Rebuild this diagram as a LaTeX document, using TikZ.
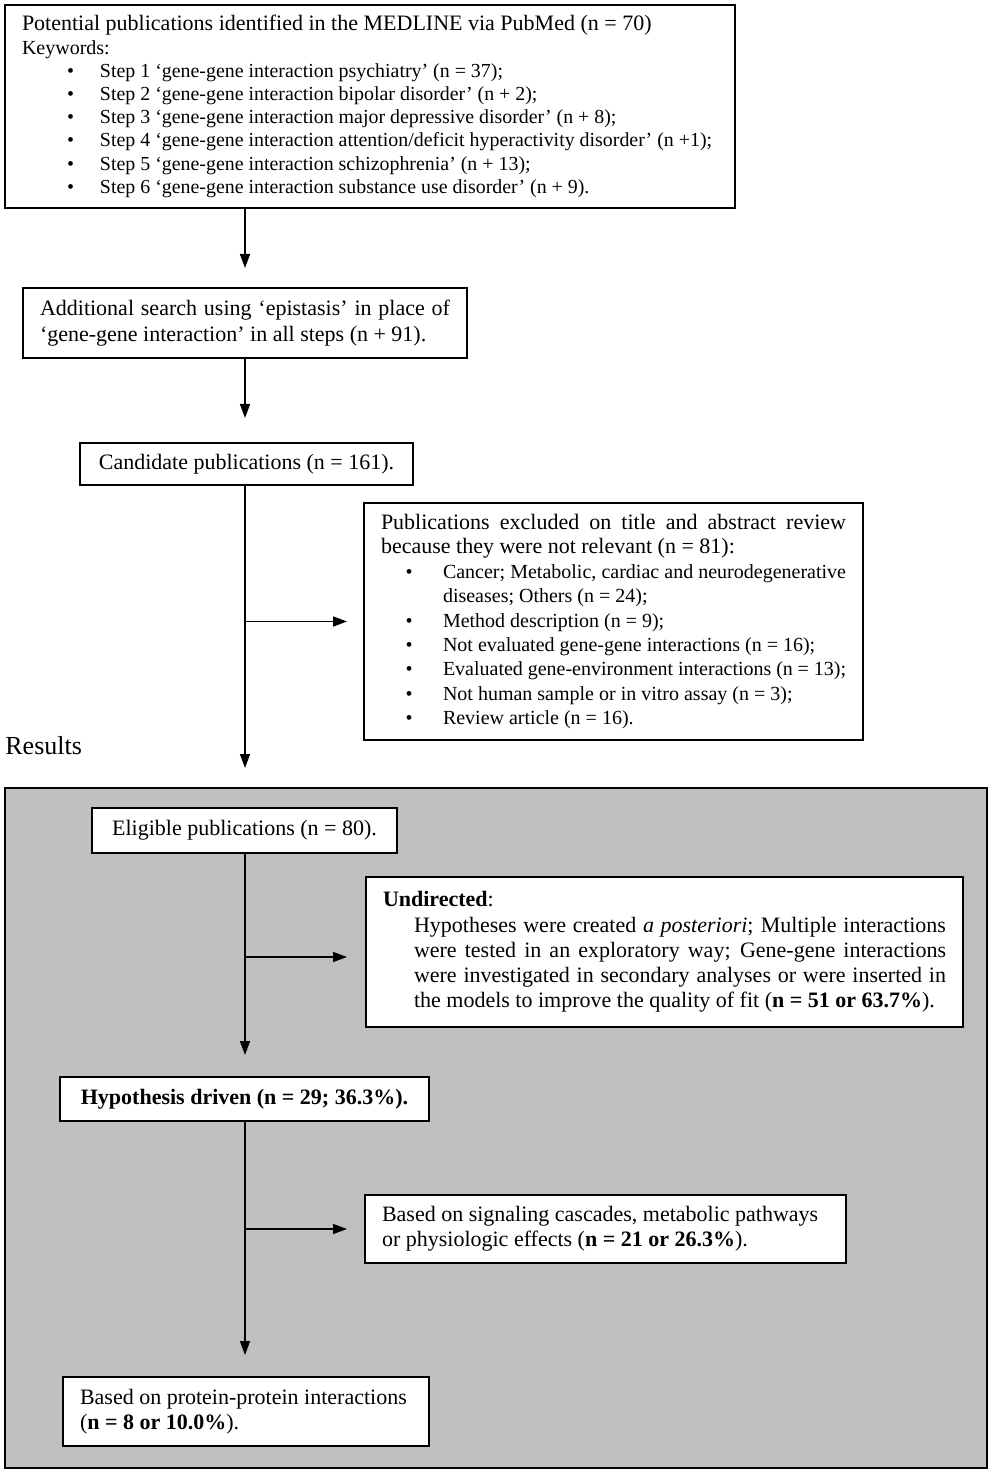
\documentclass[tikz,border=0pt]{standalone}
\usepackage{fontspec}
\setmainfont{Liberation Serif}
\usetikzlibrary{arrows.meta}
\definecolor{panelgray}{RGB}{192,192,192}
\newcommand{\kwbul}{\makebox[39pt][l]{\hspace*{22.5pt}\textbullet}}
\newcommand{\exbul}{\leavevmode\llap{\textbullet\hspace*{15.2pt}}}
\tikzset{
  box/.style={draw=black, line width=1pt, fill=white, anchor=north west, outer sep=0pt, inner xsep=8.5pt, inner ysep=0pt, font=\fontsize{11}{12.2}\selectfont},
  arr/.style={-{Triangle[length=7pt,width=5pt]}, line width=0.8pt}
}
\begin{document}
\begin{tikzpicture}[x=0.5pt,y=-0.5pt]
\useasboundingbox (0,0) rectangle (992,1475);
\filldraw[draw=black, fill=panelgray, line width=1pt] (5,788) rectangle (987,1468);
\coordinate (trunk) at (245,0);

\node[box, text width=348pt, minimum height=101.5pt, align=flush left, font=\fontsize{9.95}{11.6}\selectfont] (medline) at (5,5)
 {{\fontsize{11}{11.6}\selectfont Potential publications identified in the MEDLINE via PubMed (n = 70)}\\
  {\fontsize{10}{11.6}\selectfont Keywords:}\\
  \kwbul Step 1 ‘gene-gene interaction psychiatry’ (n = 37);\\
  \kwbul Step 2 ‘gene-gene interaction bipolar disorder’ (n + 2);\\
  \kwbul Step 3 ‘gene-gene interaction major depressive disorder’ (n + 8);\\
  \mbox{\kwbul Step 4 ‘gene-gene interaction attention/deficit hyperactivity disorder’ (n +1);}\\
  \kwbul Step 5 ‘gene-gene interaction schizophrenia’ (n + 13);\\
  \kwbul Step 6 ‘gene-gene interaction substance use disorder’ (n + 9).};
\node[box, text width=205pt, minimum height=35pt, align=justify, font=\fontsize{11}{13}\selectfont] (epist) at (23,288)
 {Additional search using ‘epistasis’ in place of\linebreak ‘gene-gene interaction’ in all steps (n + 91).};
\node[box, minimum width=166.5pt, minimum height=21pt, inner xsep=0pt] (cand) at (80,443)
 {Candidate publications (n = 161).};
\node[box, text width=232.5pt, minimum height=118.5pt, align=justify] (excl) at (364,503)
 {Publications excluded on title and abstract review\linebreak because they were not relevant (n = 81):\par
  \fontsize{10}{12.2}\selectfont\leftskip=31pt
  \exbul Cancer; Metabolic, cardiac and neurodegenerative\linebreak diseases; Others (n = 24);\par
  \exbul Method description (n = 9);\par
  \exbul Not evaluated gene-gene interactions (n = 16);\par
  \exbul Evaluated gene-environment interactions (n = 13);\par
  \exbul Not human sample or in vitro assay (n = 3);\par
  \exbul Review article (n = 16).\par};
\node[anchor=west, inner sep=0pt, font=\fontsize{13}{15}\selectfont] (results) at (5,746) {Results};

\node[box, minimum width=152.5pt, minimum height=22.5pt, inner xsep=0pt] (elig) at (92,808)
 {Eligible publications (n = 80).};
\node[box, text width=281.5pt, minimum height=75pt, align=justify, font=\fontsize{11}{12.6}\selectfont] (undir) at (366,877)
 {\textbf{Undirected}:\par
  \leftskip=15.5pt Hypotheses were created \emph{a posteriori}; Multiple interactions\linebreak
  were tested in an exploratory way; Gene-gene interactions\linebreak
  were investigated in secondary analyses or were inserted in\linebreak
  the models to improve the quality of fit (\textbf{n = 51 or 63.7\%}).\par};
\node[box, minimum width=184.5pt, minimum height=22pt, inner xsep=0pt] (hyp) at (60,1077)
 {\textbf{Hypothesis driven (n = 29; 36.3\%).}};
\node[box, text width=223.5pt, minimum height=34pt, align=flush left, font=\fontsize{11}{12.5}\selectfont] (signal) at (365,1195)
 {Based on signaling cascades, metabolic pathways\\ or physiologic effects (\textbf{n = 21 or 26.3\%}).};
\node[box, text width=166pt, minimum height=34.5pt, align=flush left, font=\fontsize{11}{12.5}\selectfont] (prot) at (63,1377)
 {Based on protein-protein interactions\\ (\textbf{n = 8 or 10.0\%}).};

\draw[arr, shorten >=10pt] (medline.south -| trunk) -- (epist.north -| trunk);
\draw[arr, shorten >=12.5pt] (epist.south -| trunk) -- (cand.north -| trunk);
\draw[arr, shorten >=20pt] (cand.south -| trunk) -- (elig.north -| trunk);
\draw[arr, shorten >=8.5pt] (trunk |- excl.west) -- (excl.west);
\draw[arr, shorten >=11pt] (elig.south -| trunk) -- (hyp.north -| trunk);
\draw[arr, shorten >=9.5pt] (trunk |- undir.west) ++(0,5) -- ([yshift=-2.5pt]undir.west);
\draw[arr, shorten >=11pt] (hyp.south -| trunk) -- (prot.north -| trunk);
\draw[arr, shorten >=9pt] (trunk |- signal.west) -- (signal.west);
\end{tikzpicture}
\end{document}
